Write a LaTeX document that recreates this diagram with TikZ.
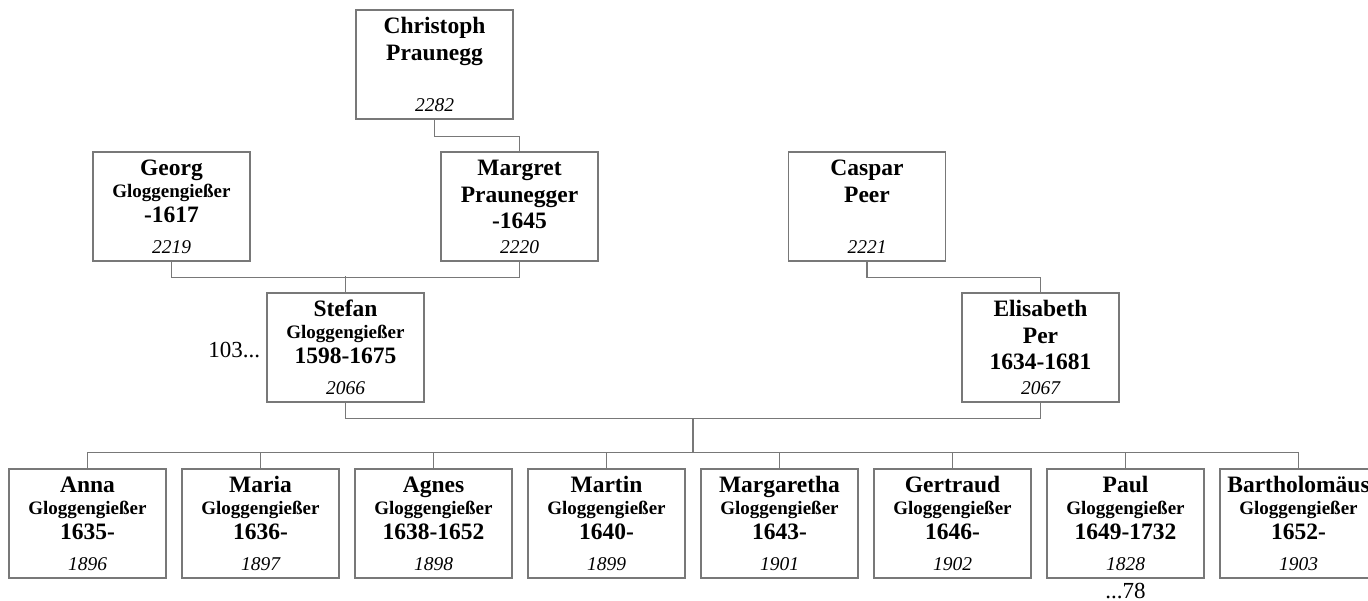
\documentclass[tikz,border=0pt]{standalone}
\usepackage{fontspec}
\setmainfont{Liberation Serif}
\usetikzlibrary{positioning}
\definecolor{linegray}{RGB}{120,120,120}

\begin{document}
\begin{tikzpicture}[
    x=1pt, y=-1pt,
    person/.style={rectangle, draw=linegray, line width=1.3pt, fill=white,
        minimum width=157pt, minimum height=109pt, inner sep=0pt},
    given/.style={anchor=base, yshift=-24.5pt, font=\fontsize{23.5}{26}\selectfont\bfseries},
    surname/.style={anchor=base, yshift=-46.5pt, font=\fontsize{19}{22}\selectfont\bfseries},
    bigsurname/.style={anchor=base, yshift=-51pt, font=\fontsize{23.5}{26}\selectfont\bfseries},
    years/.style={anchor=base, yshift=-71.5pt, font=\fontsize{23.5}{26}\selectfont\bfseries},
    bigyears/.style={anchor=base, yshift=-77pt, font=\fontsize{23.5}{26}\selectfont\bfseries},
    refno/.style={anchor=base, yshift=8pt, font=\fontsize{19.5}{22}\selectfont\itshape},
    note/.style={font=\fontsize{23}{26}\selectfont, inner sep=0pt},
    link/.style={draw=linegray, line width=1.3pt}]

    \clip (0,0) rectangle (1368,600);

    % Define ancestors
    \node[person, label={[given]north:Christoph}, label={[bigsurname]north:Praunegg},
        label={[refno]south:2282}] (chr) at (434.5,64.5) {};
    \node[person, label={[given]north:Georg}, label={[surname]north:Gloggengießer},
        label={[years]north:-1617}, label={[refno]south:2219}] (geo) at (171.5,206.5) {};
    \node[person, label={[given]north:Margret}, label={[bigsurname]north:Praunegger},
        label={[bigyears]north:-1645}, label={[refno]south:2220}] (mar) at (519.5,206.5) {};
    \node[person, label={[given]north:Caspar}, label={[bigsurname]north:Peer},
        label={[refno]south:2221}] (cas) at (867,206.5) {};

    % Define parents
    \node[person, label={[given]north:Stefan}, label={[surname]north:Gloggengießer},
        label={[years]north:1598-1675}, label={[refno]south:2066}] (ste) at (345.5,347.5) {};
    \node[person, label={[given]north:Elisabeth}, label={[bigsurname]north:Per},
        label={[bigyears]north:1634-1681}, label={[refno]south:2067}] (eli) at (1040.5,347.5) {};
    \node[note, anchor=base east] (pre) at ([xshift=-6pt, yshift=-10pt]ste.west) {103...};

    % Define children
    \node[person, label={[given]north:Anna}, label={[surname]north:Gloggengießer},
        label={[years]north:1635-}, label={[refno]south:1896}] (anna) at (87.5,523.5) {};
    \node[person, label={[given]north:Maria}, label={[surname]north:Gloggengießer},
        label={[years]north:1636-}, label={[refno]south:1897}] (maria) at (260.5,523.5) {};
    \node[person, label={[given]north:Agnes}, label={[surname]north:Gloggengießer},
        label={[years]north:1638-1652}, label={[refno]south:1898}] (agnes) at (433.5,523.5) {};
    \node[person, label={[given]north:Martin}, label={[surname]north:Gloggengießer},
        label={[years]north:1640-}, label={[refno]south:1899}] (martin) at (606.5,523.5) {};
    \node[person, label={[given]north:Margaretha}, label={[surname]north:Gloggengießer},
        label={[years]north:1643-}, label={[refno]south:1901}] (marga) at (779.5,523.5) {};
    \node[person, label={[given]north:Gertraud}, label={[surname]north:Gloggengießer},
        label={[years]north:1646-}, label={[refno]south:1902}] (gert) at (952.5,523.5) {};
    \node[person, label={[given]north:Paul}, label={[surname]north:Gloggengießer},
        label={[years]north:1649-1732}, label={[refno]south:1828}] (paul) at (1125.5,523.5) {};
    \node[person, label={[given]north:Bartholomäus}, label={[surname]north:Gloggengießer},
        label={[years]north:1652-}, label={[refno]south:1903}] (bart) at (1298.5,523.5) {};
    \node[note, anchor=base] (post) at ([yshift=-20pt]paul.south) {...78};

    % Draw connectors
    \draw[link] (chr.south) -- ++(0,17) -| (mar.north);
    \draw[link] (geo.south) -- ++(0,16) -| (mar.south);
    \draw[link] (ste.north) -- ++(0,-16);
    \draw[link] (cas.south) -- ++(0,16) -| (eli.north);
    \path (ste.south) -- (eli.south) coordinate[pos=.5] (mid);
    \draw[link] (ste.south) -- ++(0,16) -| (eli.south);
    \draw[link] ([yshift=-16pt]mid) -- ([yshift=16pt]mid |- anna.north);
    \draw[link] ([yshift=16pt]anna.north) -- ([yshift=16pt]bart.north);
    \foreach \kid in {anna,maria,agnes,martin,marga,gert,paul,bart}
        \draw[link] (\kid.north) -- ++(0,-16);

\end{tikzpicture}
\end{document}
